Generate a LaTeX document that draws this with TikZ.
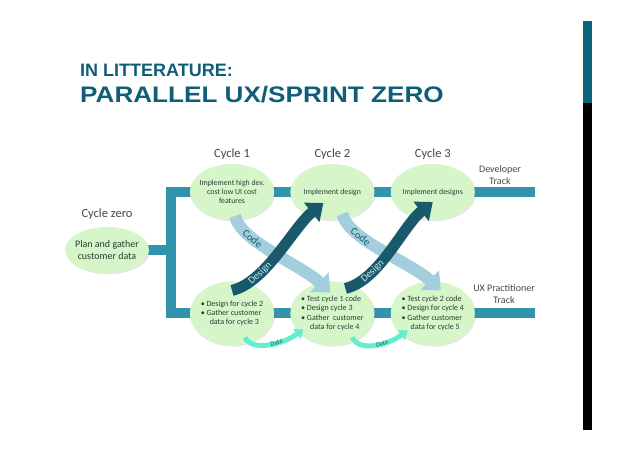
\documentclass[tikz,border=0pt]{standalone}
\usepackage{xcolor}
\usepackage{fontspec}
\setmainfont{Carlito}
\newfontfamily\titlefont{Liberation Sans}
\usetikzlibrary{shapes,arrows,arrows.meta,positioning,shadows,backgrounds}

\definecolor{titleteal}{RGB}{16,94,118}
\definecolor{sideteal}{RGB}{12,100,125}
\definecolor{trackblue}{RGB}{49,147,172}
\definecolor{designteal}{RGB}{24,90,108}
\definecolor{codeblue}{RGB}{162,206,222}
\definecolor{datagreen}{RGB}{100,238,205}
\definecolor{ellgreen}{RGB}{214,246,202}
\definecolor{labelgray}{RGB}{70,70,70}
\definecolor{inktext}{RGB}{40,60,50}

\begin{document}
\begin{tikzpicture}[x=1pt, y=-1pt, node distance=16pt and 16pt, every node/.style={font=\small, text=inktext}]

    % Styles for the cycles and the two tracks
    \tikzset{
        cyclebox/.style={ellipse, fill=ellgreen, drop shadow={opacity=0.2, shadow xshift=1pt, shadow yshift=-1.2pt}, minimum width=84pt, minimum height=56pt, inner xsep=-7pt, inner ysep=0pt, align=center, font=\fontsize{7.8}{9}\selectfont},
        uxbox/.style={cyclebox, minimum height=64pt, align=left, font=\fontsize{8}{9.4}\selectfont},
        cyclelabel/.style={font=\fontsize{12.5}{14}\selectfont, text=labelgray, inner sep=0pt},
        tracklabel/.style={font=\fontsize{10}{12}\selectfont, text=labelgray, align=center, inner sep=0pt},
        track/.style={draw=trackblue, line width=10pt},
        codearrow/.style={draw=codeblue, line width=12pt, -{Triangle[width=26pt, length=15pt]}},
        designarrow/.style={draw=designteal, line width=11pt, -{Triangle[width=24pt, length=15pt]}},
        dataarrow/.style={draw=datagreen, line width=5pt, -{Triangle[width=12pt, length=8pt]}},
        codelabel/.style={font=\fontsize{10.5}{12}\selectfont, text=designteal, inner sep=0pt},
        designlabel/.style={font=\fontsize{10}{12}\selectfont, text=codeblue!45!white, inner sep=0pt},
        datalabel/.style={font=\fontsize{6.5}{7}\selectfont, text=designteal, inner sep=0pt},
        headline/.style={anchor=base west, inner sep=0pt, text=titleteal}
    }

    \useasboundingbox (0,0) rectangle (638,451);

    % Slide heading and side bar
    \node[headline, font=\titlefont\bfseries\fontsize{18}{20}\selectfont] (subheading) at (80,76) {IN LITTERATURE:};
    \node[headline, font=\titlefont\bfseries\fontsize{22.5}{24}\selectfont] (heading) at (80,102) {\scalebox{1.16}[1]{PARALLEL UX/SPRINT ZERO}};
    \fill[sideteal] (583,21) rectangle (592,103);
    \fill[black] (583,103) rectangle (592,430);

    % Cycle zero
    \node[cyclebox, minimum height=46pt, font=\fontsize{10}{11.5}\selectfont] (cz) at (107,250) {Plan and gather\\customer data};
    \node[cyclelabel, above=7pt of cz] (czlabel) {Cycle zero};

    % Developer track
    \node[cyclebox] (c1) at (232,192) {Implement high dev.\\cost low UI cost\\features};
    \node[cyclebox, right=of c1] (c2) {Implement design};
    \node[cyclebox, right=of c2] (c3) {Implement designs};

    \node[cyclelabel, above=4pt of c1] (c1label) {Cycle 1};
    \node[cyclelabel, above=4pt of c2] (c2label) {Cycle 2};
    \node[cyclelabel, above=4pt of c3] (c3label) {Cycle 3};

    % UX practitioner track
    \node[uxbox, below=61pt of c1] (b1) {\textbullet\ Design for cycle 2\\\textbullet\ Gather customer\\\hspace*{9pt}data for cycle 3};
    \node[uxbox, right=of b1] (b2) {\textbullet\ Test cycle 1 code\\\textbullet\ Design cycle 3\\\textbullet\ Gather\ \ customer\\\hspace*{9pt}data for cycle 4};
    \node[uxbox, right=of b2] (b3) {\textbullet\ Test cycle 2 code\\\textbullet\ Design for cycle 4\\\textbullet\ Gather customer\\\hspace*{9pt}data for cycle 5};

    \coordinate (jtop) at (171,192);
    \coordinate (jbot) at (b1.center -| jtop);
    \coordinate (devend) at (535,192);
    \coordinate (uxend) at (b3.center -| devend);

    \node[tracklabel] (devlabel) at (500,175) {Developer\\Track};
    \node[tracklabel] (uxlabel) at (504,294) {UX Practitioner\\Track};

    % Track bars behind the cycles
    \begin{scope}[on background layer]
        \draw[track] (cz.center) -- (cz.center -| jtop);
        \draw[track] (devend) -- (c3.center) -- (c2.center) -- (c1.center) -- (jtop) -- (jbot) -- (b1.center) -- (b2.center) -- (b3.center) -- (uxend);
    \end{scope}

    % Code handed down to UX for testing
    \draw[codearrow] ([shift={(3,24)}]c1.center) .. controls +(6,26) and +(-30,-28) .. ([shift={(-2,-21)}]b2.center) node[codelabel, sloped, pos=0.3] {Code};
    \draw[codearrow] ([shift={(10,22)}]c2.center) .. controls +(6,26) and +(-30,-28) .. ([shift={(8,-23)}]b3.center) node[codelabel, sloped, pos=0.3] {Code};

    % Designs handed up to development
    \draw[designarrow] ([shift={(0,-23)}]b1.center) .. controls +(34,-8) and +(-30,24) .. ([shift={(-9,11)}]c2.center) node[designlabel, sloped, pos=0.29] {Design};
    \draw[designarrow] ([shift={(13,-25)}]b2.center) .. controls +(34,-8) and +(-30,24) .. ([shift={(0,10)}]c3.center) node[designlabel, sloped, pos=0.29] {Design};

    % Customer data passed on
    \draw[dataarrow] ([shift={(13,24)}]b1.center) .. controls +(6,14) and +(-22,16) .. ([shift={(-29,16)}]b2.center) node[datalabel, sloped, pos=0.62] {Data};
    \draw[dataarrow] ([shift={(20,24)}]b2.center) .. controls +(6,14) and +(-22,16) .. ([shift={(-25,17)}]b3.center) node[datalabel, sloped, pos=0.62] {Data};

\end{tikzpicture}
\end{document}
